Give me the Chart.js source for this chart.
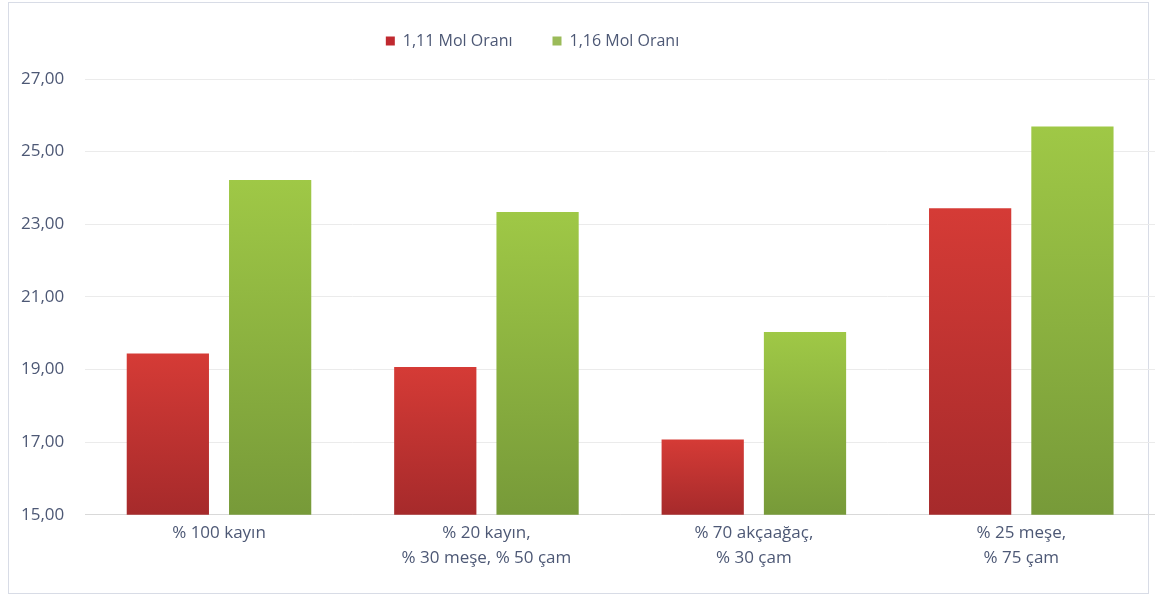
<!DOCTYPE html>
<html lang="tr">
<head>
<meta charset="utf-8">
<title>Mol Oranı</title>
<script src="https://cdn.jsdelivr.net/npm/chart.js@4.4.1/dist/chart.umd.min.js"></script>
<style>
    html, body { margin: 0; padding: 0; background: #fff; }
    #wrap { position: relative; width: 1155px; height: 601px; }
    #frame {
        position: absolute; left: 8px; top: 2px; width: 1141px; height: 592px;
        border: 1px solid #d8dce6; box-sizing: border-box;
    }
    #chart { position: absolute; left: 0; top: 0; }
</style>
</head>
<body>
<div id="wrap">
    <div id="frame"></div>
    <canvas id="chart" width="1155" height="601"></canvas>
</div>
<script>
// Wood mixtures on the x axis
const categories = [
    '% 100 kayın',
    ['% 20 kayın,', '% 30 meşe, % 50 çam'],
    ['% 70 akçaağaç,', '% 30 çam'],
    ['% 25 meşe,', '% 75 çam'],
];
const seriesNames = ['1,11 Mol Oranı', '1,16 Mol Oranı'];
const mol111 = [19.44, 19.07, 17.07, 23.44];
const mol116 = [24.22, 23.34, 20.03, 25.69];
const yTicks = [15, 17, 19, 21, 23, 25, 27];

const FONT = '"Open Sans", "Liberation Sans", sans-serif';
const TEXT = '#4d5875';

// top -> bottom shading for each series
const shades = [
    { top: '#d53b36', bottom: '#a62a2b', flat: '#c0292f' },
    { top: '#9fc846', bottom: '#779a39', flat: '#9bbb59' },
];

// each bar gets its own vertical gradient, from its top down to the baseline
function barFill(seriesIdx) {
    return (ctx) => {
        const chart = ctx.chart;
        const s = shades[seriesIdx];
        if (!chart.chartArea || ctx.type !== 'data') return s.flat;
        const y = chart.scales.y;
        const top = y.getPixelForValue(ctx.raw);
        const base = y.getPixelForValue(y.min);
        if (!isFinite(top) || base - top < 1) return s.flat;
        const g = chart.ctx.createLinearGradient(0, top, 0, base);
        g.addColorStop(0, s.top);
        g.addColorStop(1, s.bottom);
        return g;
    };
}

// move the legend box without touching the plot area
const legendOffset = {
    id: 'legendOffset',
    afterLayout(chart, args, opts) {
        const lg = chart.legend;
        if (!lg) return;
        lg.left += opts.dx;
        lg.right += opts.dx;
        lg.top += opts.dy;
        lg.bottom += opts.dy;
    }
};

new Chart(document.getElementById('chart'), {
    type: 'bar',
    data: {
        labels: categories,
        datasets: [
            { label: seriesNames[0], data: mol111, backgroundColor: barFill(0) },
            { label: seriesNames[1], data: mol116, backgroundColor: barFill(1) },
        ],
    },
    plugins: [legendOffset],
    options: {
        responsive: false,
        animation: false,
        layout: { padding: { top: 13, left: 0, right: 0, bottom: 25 } },
        datasets: {
            bar: { categoryPercentage: 0.765, barPercentage: 0.804, borderWidth: 0 },
        },
        plugins: {
            legendOffset: { dx: -45, dy: -20 },
            tooltip: { enabled: false },
            legend: {
                position: 'top',
                labels: {
                    boxWidth: 9, boxHeight: 9, padding: 40,
                    color: TEXT,
                    font: { family: FONT, size: 16 },
                    generateLabels: (chart) => {
                        const items = Chart.defaults.plugins.legend.labels.generateLabels(chart);
                        items.forEach((it, i) => {
                            it.fillStyle = shades[i].flat;
                            it.strokeStyle = shades[i].flat;
                            it.lineWidth = 0;
                        });
                        return items;
                    },
                },
            },
        },
        scales: {
            x: {
                grid: { display: false, drawTicks: false },
                border: { display: true, color: '#d9d9d9' },
                ticks: {
                    color: TEXT, padding: 6, maxRotation: 0, autoSkip: false,
                    font: { family: FONT, size: 17, lineHeight: 1.45 },
                },
            },
            y: {
                min: yTicks[0],
                max: yTicks[yTicks.length - 1],
                afterBuildTicks: (axis) => { axis.ticks = yTicks.map(v => ({ value: v })); },
                grid: { color: '#ebebeb', drawTicks: false },
                border: { display: false },
                ticks: {
                    color: TEXT, padding: 21,
                    font: { family: FONT, size: 17 },
                    callback: v => v.toFixed(2).replace('.', ','),
                },
            },
        },
    },
});
</script>
</body>
</html>
